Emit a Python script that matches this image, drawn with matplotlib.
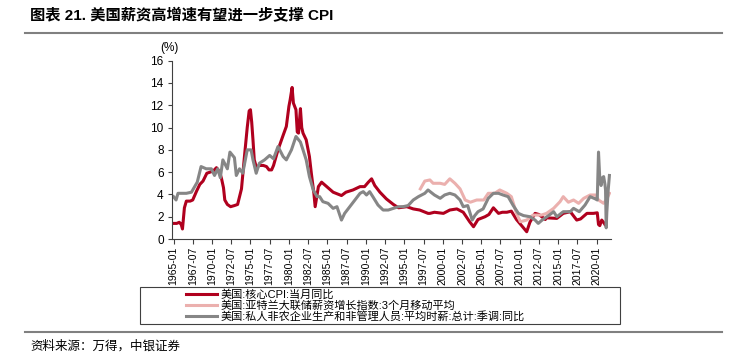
import matplotlib
matplotlib.use("Agg")
import matplotlib.pyplot as plt
from matplotlib.lines import Line2D
from matplotlib.patches import Rectangle
import pandas as pd

plt.rcParams["font.family"] = ["Liberation Sans", "Noto Sans CJK SC"]

# 美国:核心CPI:当月同比
core_dates = [
    "1965-01", "1965-06", "1965-10", "1966-01", "1966-03", "1966-06", "1966-09",
    "1967-03", "1967-07", "1968-01", "1968-06", "1968-11", "1969-05", "1969-10",
    "1970-03", "1970-08", "1971-01", "1971-04", "1971-07", "1971-09", "1972-01",
    "1972-06", "1972-12", "1973-05", "1973-11", "1974-04", "1974-08", "1974-11",
    "1975-01", "1975-03", "1975-05", "1975-07", "1975-10", "1976-04", "1976-09",
    "1977-02", "1977-06", "1977-10", "1978-01", "1978-08", "1979-04", "1979-09",
    "1980-01", "1980-03", "1980-06", "1980-08", "1980-12", "1981-02", "1981-04",
    "1981-07", "1981-09", "1981-11", "1982-04", "1982-09", "1982-12", "1983-04",
    "1983-06", "1983-11", "1984-04", "1984-12", "1985-10", "1986-11", "1987-06",
    "1988-05", "1989-04", "1989-11", "1990-05", "1990-10", "1991-03", "1991-11",
    "1992-09", "1993-08", "1994-04", "1995-05", "1996-03", "1997-01", "1998-02",
    "1998-05", "1998-12", "2000-02", "2000-12", "2001-11", "2002-09", "2003-07",
    "2004-01", "2004-08", "2005-07", "2006-01", "2006-08", "2007-04", "2007-10",
    "2008-05", "2008-12", "2009-08", "2010-07", "2010-12", "2011-05", "2012-01",
    "2012-07", "2013-05", "2013-07", "2014-11", "2015-09", "2016-08", "2017-06",
    "2017-12", "2018-10", "2019-08", "2020-02", "2020-04", "2020-06", "2020-09",
    "2021-01", "2021-02",
]
core_cpi = [
    1.4, 1.4, 1.5, 1.3, 0.9, 2.8, 3.4,
    3.4, 3.5, 4.3, 4.9, 5.2, 5.9, 6.0,
    6.1, 6.4, 6.0, 5.4, 4.6, 3.5, 3.1,
    2.9, 3.0, 3.1, 4.5, 7.6, 10.0, 11.5,
    11.6, 10.5, 8.9, 7.1, 6.5, 6.6, 6.6,
    6.5, 6.2, 6.2, 6.6, 8.0, 9.3, 10.1,
    11.9, 12.5, 13.6, 12.2, 11.6, 9.6, 9.5,
    11.7, 10.0, 9.5, 8.9, 7.4, 5.9, 4.1,
    2.9, 4.7, 5.1, 4.7, 4.2, 3.9, 4.2,
    4.4, 4.7, 4.7, 5.1, 5.4, 4.8, 4.2,
    3.6, 3.1, 2.8, 2.9, 2.7, 2.6, 2.3,
    2.3, 2.4, 2.3, 2.6, 2.7, 2.4, 1.55,
    1.1, 1.75, 2.0, 2.2, 2.8, 2.3, 2.4,
    2.4, 2.5, 1.75, 1.0, 0.65, 1.5, 2.3,
    2.2, 1.75, 1.9, 1.85, 2.3, 2.45, 1.7,
    1.8, 2.3, 2.3, 2.35, 1.3, 1.2, 1.7,
    1.4, 1.3,
]

# 美国:亚特兰大联储薪资增长指数:3个月移动平均
atl_dates = [
    "1997-02", "1997-09", "1998-05", "1998-10", "1999-09", "2000-04", "2000-12",
    "2001-08", "2002-04", "2002-12", "2003-08", "2004-06", "2005-05", "2005-12",
    "2006-10", "2007-06", "2008-05", "2008-12", "2009-08", "2010-02", "2010-12",
    "2011-10", "2012-11", "2013-07", "2014-06", "2015-04", "2015-09", "2016-05",
    "2017-01", "2017-09", "2018-05", "2019-03", "2019-11", "2020-04", "2020-12",
    "2021-05", "2021-09",
]
atl_wage = [
    4.5, 5.2, 5.3, 5.0, 5.0, 4.9, 5.4,
    5.0, 4.5, 3.5, 3.3, 3.5, 3.5, 4.1,
    4.1, 4.4, 4.1, 3.8, 2.3, 1.55, 1.7,
    2.15, 2.15, 2.3, 2.75, 3.35, 3.8, 3.3,
    3.5, 3.2, 3.65, 3.95, 3.95, 3.5, 3.2,
    3.6, 4.1,
]

# 美国:私人非农企业生产和非管理人员:平均时薪:总计:季调:同比
ahe_dates = [
    "1965-01", "1965-05", "1965-08", "1966-09", "1967-05", "1967-10", "1968-02",
    "1968-08", "1969-04", "1969-12", "1970-05", "1970-10", "1971-02", "1971-06",
    "1972-01", "1972-05", "1972-12", "1973-03", "1973-08", "1974-01", "1974-08",
    "1975-02", "1975-05", "1975-10", "1976-03", "1976-11", "1977-07", "1978-01",
    "1978-08", "1979-04", "1979-09", "1980-05", "1980-12", "1981-07", "1981-11",
    "1982-04", "1982-09", "1983-03", "1983-09", "1984-01", "1984-06", "1985-02",
    "1985-10", "1986-04", "1986-11", "1987-04", "1987-12", "1988-08", "1989-04",
    "1989-09", "1990-02", "1990-07", "1991-01", "1991-08", "1992-04", "1992-12",
    "1993-08", "1994-04", "1994-11", "1995-07", "1996-03", "1996-11", "1997-09",
    "1998-02", "1998-12", "1999-09", "2000-04", "2000-12", "2001-08", "2002-04",
    "2002-09", "2003-04", "2003-11", "2004-03", "2004-08", "2005-04", "2005-12",
    "2006-08", "2007-04", "2007-11", "2008-07", "2009-03", "2009-11", "2010-07",
    "2011-05", "2012-01", "2012-06", "2012-12", "2013-10", "2014-06", "2014-11",
    "2015-09", "2016-08", "2017-01", "2017-10", "2018-07", "2019-03", "2019-11",
    "2020-02", "2020-04", "2020-05", "2020-06", "2020-08", "2020-10", "2020-12",
    "2021-02", "2021-03", "2021-04", "2021-05", "2021-07", "2021-09",
]
ahe_wage = [
    3.8, 3.5, 4.1, 4.1, 4.2, 4.7, 5.1,
    6.5, 6.3, 6.3, 5.7, 6.3, 5.5, 7.1,
    6.3, 7.8, 7.3, 5.7, 6.3, 5.9, 8.0,
    8.0, 7.1, 5.9, 6.8, 7.1, 7.5, 7.2,
    8.3, 7.4, 7.1, 8.0, 9.2, 8.7, 8.0,
    7.1, 5.6, 4.4, 3.8, 3.8, 3.35, 3.2,
    2.75, 2.9, 1.7, 2.3, 2.9, 3.5, 4.1,
    4.25, 3.95, 4.25, 3.7, 3.05, 2.6, 2.6,
    2.75, 2.9, 2.9, 3.0, 3.5, 3.8, 4.1,
    4.4, 3.95, 3.65, 3.95, 4.1, 3.95, 3.5,
    2.9, 3.0, 1.7, 2.1, 2.45, 2.7, 3.65,
    4.1, 4.1, 3.95, 3.8, 3.0, 2.3, 2.1,
    2.0, 1.7, 1.4, 1.7, 2.1, 2.45, 2.0,
    2.45, 2.45, 2.75, 2.45, 3.05, 3.8, 3.6,
    3.5, 7.8, 6.6, 5.4, 4.8, 5.5, 5.6,
    4.9, 4.4, 1.0, 2.4, 4.3, 5.7,
]

tick_dates = pd.date_range("1965-01-01", "2020-01-01", freq="30MS")
y_ticks = [0, 2, 4, 6, 8, 10, 12, 14, 16]

labels = [
    "美国:核心CPI:当月同比",
    "美国:亚特兰大联储薪资增长指数:3个月移动平均",
    "美国:私人非农企业生产和非管理人员:平均时薪:总计:季调:同比",
]
colors = ["#B0001E", "#EBB0AE", "#868686"]

W, H = 731, 361
fig = plt.figure(figsize=(W / 100, H / 100), dpi=100)
ax = fig.add_axes([172 / W, 1 - 239 / H, (611 - 172) / W, (239 - 60.7) / H])

series = [(core_dates, core_cpi), (atl_dates, atl_wage), (ahe_dates, ahe_wage)]
for (d, v), lab, c in zip(series, labels, colors):
    ax.plot(pd.to_datetime(d), v, color=c, lw=2.2, label=lab,
            solid_joinstyle="round")

ax.set_xlim(pd.Timestamp("1964-10-20"), pd.Timestamp("2021-11-15"))
ax.set_ylim(0, 16)
ax.set_yticks(y_ticks)
ax.set_xticks(tick_dates)
ax.set_xticklabels([t.strftime("%Y-%m") for t in tick_dates], rotation=90,
                   fontsize=7.5)
ax.tick_params(axis="y", labelsize=8.5, length=3, color="#404040", pad=3)
ax.tick_params(axis="x", length=3.5, color="#404040", pad=2)
for s in ["top", "right"]:
    ax.spines[s].set_visible(False)
for s in ["left", "bottom"]:
    ax.spines[s].set_color("#404040")
    ax.spines[s].set_linewidth(0.8)
ax.text(-0.005, 1.04, "(%)", transform=ax.transAxes, ha="center",
        va="bottom", fontsize=8.5)

# legend: entries centred in a wider box
fig.add_artist(Rectangle((140 / W, 1 - 324 / H), 480 / W, 37 / H,
                         transform=fig.transFigure, fill=False,
                         edgecolor="#404040", lw=0.8))
fig.legend(loc="upper left", bbox_to_anchor=(186 / W, 1 - 289 / H),
           frameon=False, fontsize=8, handlelength=2.8, handletextpad=0.3,
           labelspacing=0.05, borderpad=0, borderaxespad=0)

fig.text(30 / W, 1 - 16 / H, "图表 21. 美国薪资高增速有望进一步支撑 CPI",
         fontsize=11, fontweight="bold", ha="left", va="center")
fig.add_artist(Line2D([25 / W, 722 / W], [1 - 33 / H] * 2,
                      color="#808080", lw=1.5))
fig.add_artist(Line2D([25 / W, 722 / W], [1 - 332 / H] * 2,
                      color="#808080", lw=1.5))
fig.text(30 / W, 1 - 346 / H, "资料来源：万得，中银证券", fontsize=9,
         ha="left", va="center", style="italic")

fig.savefig("out.png", dpi=100)
